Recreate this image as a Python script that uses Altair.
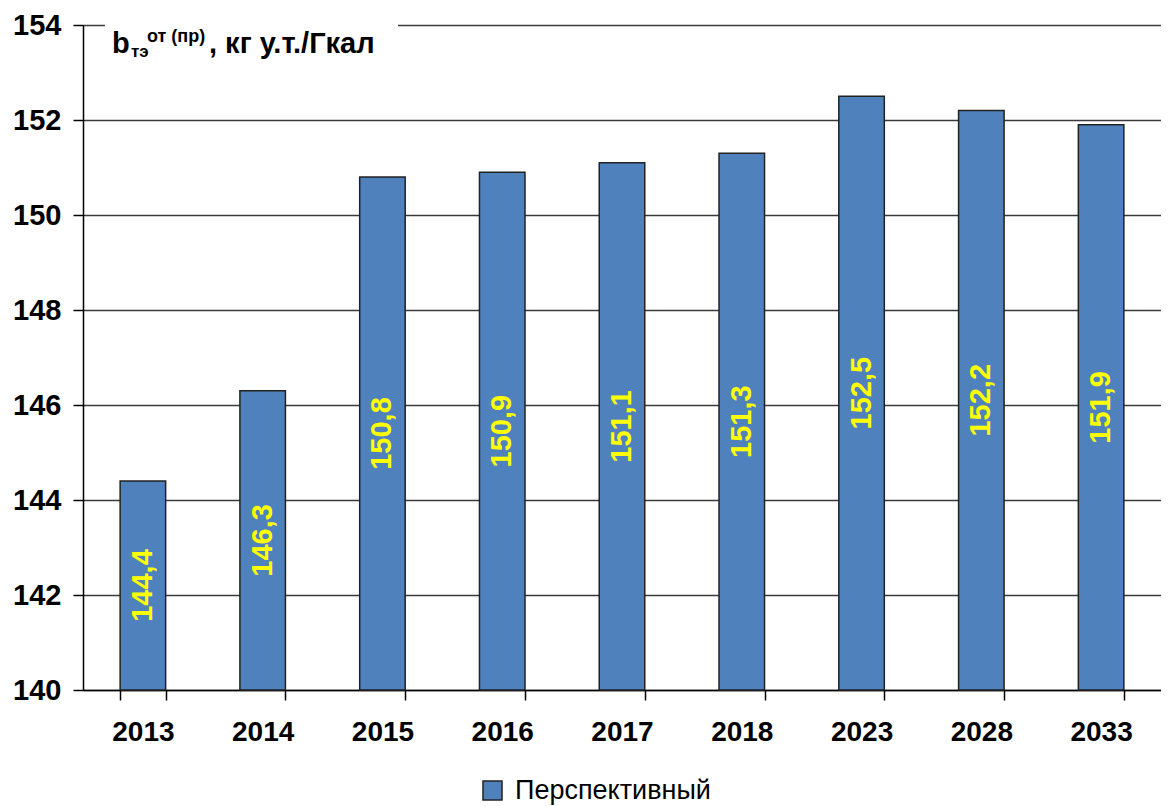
import altair as alt
import pandas as pd

years = ["2013", "2014", "2015", "2016", "2017", "2018", "2023", "2028", "2033"]
values = [144.4, 146.3, 150.8, 150.9, 151.1, 151.3, 152.5, 152.2, 151.9]
series_name = "Перспективный"
y_ticks = [140, 142, 144, 146, 148, 150, 152, 154]
y_min, y_max = 140, 154

FONT = "Liberation Sans"

df = pd.DataFrame({"year": years, "value": values, "series": [series_name] * len(years)})

x_enc = alt.X(
    "year:N",
    sort=years,
    title=None,
    scale=alt.Scale(paddingInner=0.62, paddingOuter=0.31),
    axis=alt.Axis(
        labelAngle=0,
        labelFont=FONT,
        labelFontSize=28,
        labelFontWeight="bold",
        labelColor="black",
        labelPadding=18,
        tickSize=10,
        tickColor="black",
        tickBand="extent",
        domainColor="black",
        domainWidth=1.5,
        tickWidth=1.5,
        grid=False,
    ),
)

y_scale = alt.Scale(domain=[y_min, y_max], nice=False, zero=False)

base = alt.Chart(df)

bars = base.mark_bar(stroke="#222222", strokeWidth=1.5).encode(
    x=x_enc,
    y=alt.Y(
        "value:Q",
        scale=y_scale,
        title=None,
        axis=alt.Axis(
            values=y_ticks,
            labelFont=FONT,
            labelFontSize=29,
            labelFontWeight="bold",
            labelColor="black",
            labelPadding=12,
            tickSize=10,
            tickColor="black",
            tickWidth=1.5,
            domainColor="black",
            domainWidth=1.5,
            gridColor="#3a3a3a",
            gridWidth=1.5,
        ),
    ),
    y2=alt.datum(y_min),
    color=alt.Color(
        "series:N",
        scale=alt.Scale(range=["#4F81BD"]),
        legend=alt.Legend(
            title=None,
            orient="none",
            legendX=396,
            legendY=752,
            padding=0,
            symbolType="square",
            symbolSize=361,
            symbolStrokeColor="#222222",
            symbolStrokeWidth=1.5,
            symbolFillColor="#4F81BD",
            labelFont=FONT,
            labelFontSize=27,
            labelColor="black",
            labelOffset=9,
            labelLimit=600,
        ),
    ),
)

labels = base.transform_calculate(
    mid=f"({y_min} + datum.value) / 2",
    label="replace(format(datum.value, '.1f'), '.', ',')",
).mark_text(
    angle=270,
    color="#FFFF00",
    font=FONT,
    fontSize=29,
    fontWeight="bold",
    align="center",
    baseline="middle",
).encode(
    x=alt.X("year:N", sort=years),
    y=alt.Y("mid:Q", scale=y_scale),
    text="label:N",
)

one = pd.DataFrame({"k": [0]})

title_bg = alt.Chart(one).mark_rect(color="white").encode(
    x=alt.value(22), x2=alt.value(315), y=alt.value(-6), y2=alt.value(40)
)


def txt(s, x, y, size):
    return alt.Chart(one).mark_text(
        font=FONT, fontSize=size, fontWeight="bold", color="black",
        align="left", baseline="alphabetic",
    ).encode(x=alt.value(x), y=alt.value(y), text=alt.value(s))


title = (
    txt("b", 29, 28, 29)
    + txt("тэ", 48, 32, 17)
    + txt("от (пр)", 64, 17, 18)
    + txt(", кг у.т./Гкал", 126, 28, 29)
)

chart = (
    alt.layer(bars, labels, title_bg, title)
    .properties(
        width=1078,
        height=665,
        autosize=alt.AutoSizeParams(type="none"),
        padding={"left": 75, "top": 17, "right": 0, "bottom": 116},
        background="white",
    )
    .configure_view(strokeWidth=0)
)

chart.save("out.html", embed_options={"renderer": "svg", "actions": False})
